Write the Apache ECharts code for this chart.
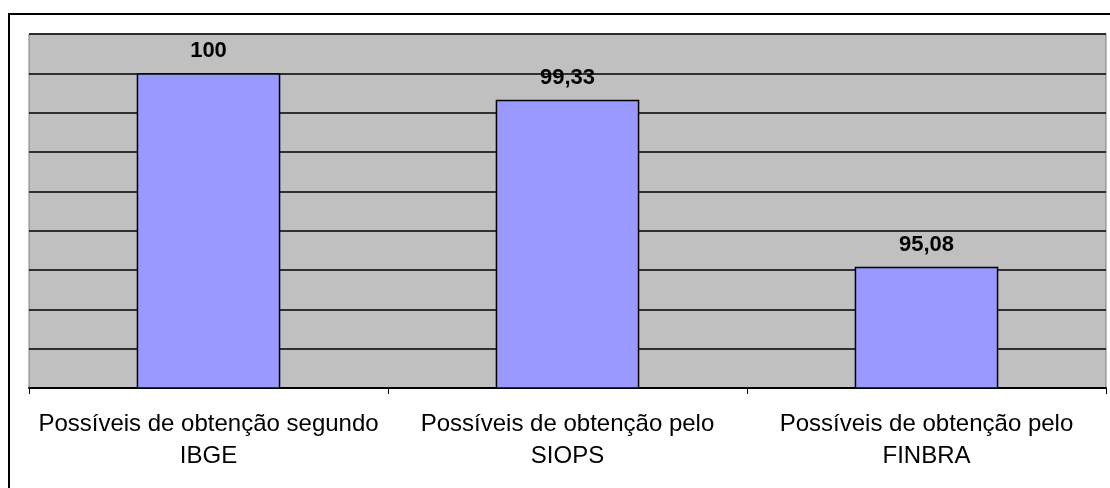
<!DOCTYPE html>
<html>
<head>
<meta charset="utf-8">
<script src="https://cdn.jsdelivr.net/npm/echarts@6/dist/echarts.min.js"></script>
<style>
  html, body { margin: 0; padding: 0; background: #fff; }
  #chart { width: 1110px; height: 488px; }
</style>
</head>
<body>
<div id="chart"></div>
<script>
// Categories and values
const categories = [
  'Possíveis de obtenção segundo\nIBGE',
  'Possíveis de obtenção pelo\nSIOPS',
  'Possíveis de obtenção pelo\nFINBRA'
];
const values = [100, 99.33, 95.08];
const valueLabels = ['100', '99,33', '95,08'];

const chart = echarts.init(document.getElementById('chart'), null, { renderer: 'canvas' });

const gridLeft = 29, gridTop = 34, gridRight = 4, gridBottom = 100;

chart.setOption({
  animation: false,
  backgroundColor: '#ffffff',
  textStyle: { fontFamily: 'Liberation Sans, Arial, sans-serif' },
  graphic: [
    {
      type: 'rect',
      shape: { x: 9, y: 14, width: 1200, height: 600 },
      style: { fill: 'none', stroke: '#000', lineWidth: 2 },
      z: 100
    }
  ],
  grid: {
    left: gridLeft, top: gridTop, right: gridRight, bottom: gridBottom,
    show: true,
    backgroundColor: '#c0c0c0',
    borderColor: '#808080',
    borderWidth: 1
  },
  xAxis: {
    type: 'category',
    data: categories,
    axisLine: { show: true, lineStyle: { color: '#000', width: 2 } },
    axisTick: { show: true, length: 6, lineStyle: { color: '#000', width: 1 } },
    axisLabel: {
      interval: 0,
      hideOverlap: false,
      color: '#000',
      fontSize: 24,
      lineHeight: 32,
      margin: 20,
      fontFamily: 'Liberation Sans, Arial, sans-serif'
    },
    splitLine: { show: false }
  },
  yAxis: {
    type: 'value',
    min: 92,
    max: 101,
    interval: 1,
    axisLine: { show: false },
    axisTick: { show: false },
    axisLabel: { show: false },
    splitLine: { show: true, lineStyle: { color: '#000', width: 1.5 } }
  },
  series: [
    {
      type: 'bar',
      data: values,
      barWidth: '40%',
      itemStyle: { color: '#9999ff', borderColor: '#000', borderWidth: 1.5 },
      label: {
        show: true,
        position: 'top',
        distance: 11,
        color: '#000',
        fontSize: 22,
        fontWeight: 'bold',
        fontFamily: 'Liberation Sans, Arial, sans-serif',
        formatter: (p) => valueLabels[p.dataIndex]
      },
      z: 3
    }
  ]
});
</script>
</body>
</html>
